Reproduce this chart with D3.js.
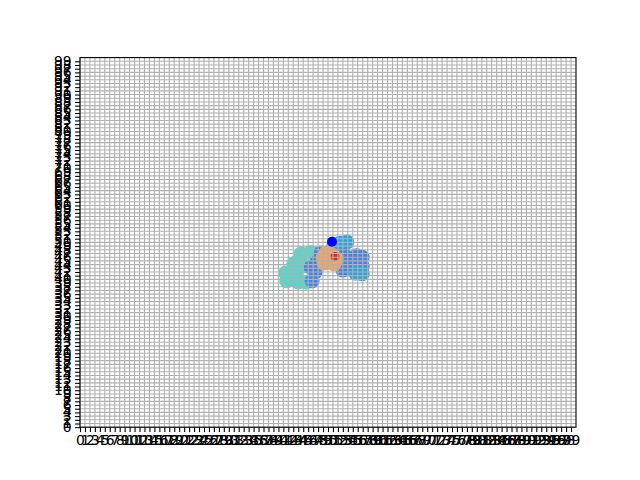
<!DOCTYPE html>
<html><head><meta charset="utf-8">
<script src="https://cdn.jsdelivr.net/npm/d3@7"></script>
<style>body{margin:0;background:#fff}svg{display:block}text{font-family:"DejaVu Sans",sans-serif}</style>
</head><body><svg id="c" width="640" height="480"></svg>
<script>
// ---- data ----
const xTicks = d3.range(0, 100);
const yTicks = d3.range(0, 100);
const turquoiseLeft = [[44.6,46.9],[46.6,47.3],[43.1,44.2],[45.2,43.6],[41.5,41.7],[43.5,41.2],[41.7,39.6],[44.0,39.3],[45.6,39.3]];
const royalLeft = [[47.8,44.7],[47.4,42.0],[46.8,39.6],[48.6,47.1],[46.6,43.2]];
const deepskyTop = [[51.2,49.3],[52.4,49.8],[53.8,50.1]];
const royalRight = [[53.4,46.4],[55.8,46.4],[56.9,46.0],[53.0,44.2],[55.4,43.9],[56.9,43.6],[53.0,42.5]];
const deepskyBottom = [[55.6,41.7],[56.9,41.5]];
const sandy = [[49.6,47.1],[49.2,44.4],[51.2,44.2],[51.6,45.6],[49.0,45.8],[50.6,46.8]];
const redPts = [[51.4,46.2]];
const bluePoint = [[50.8,50.2]];
const layers = [
  {pts: turquoiseLeft, color: "#40e0d0"},
  {pts: royalLeft, color: "#4682e6"},
  {pts: deepskyTop, color: "#1ea8e4"},
  {pts: royalRight, color: "#4682e6"},
  {pts: deepskyBottom, color: "#1ea8e4"},
  {pts: sandy, color: "#f4a460"},
  {pts: redPts, color: "#e8251e", r: 4.5}
];

// ---- layout ----
const svg = d3.select("#c");
const L = 80, R = 576, T = 57.6, B = 427.2;
const x = d3.scaleLinear().domain([0, 100]).range([L, R]);
const y = d3.scaleLinear().domain([0, 100]).range([B, T]);

svg.append("rect").attr("width",640).attr("height",480).attr("fill","#fff");

// scatter (below grid)
layers.forEach(layer => {
  svg.append("g").selectAll("circle").data(layer.pts).join("circle")
    .attr("cx", d => x(d[0])).attr("cy", d => y(d[1]))
    .attr("r", layer.r || 7.5).attr("fill", layer.color);
});

// grid
const grid = svg.append("g").attr("stroke", "#b0b0b0").attr("stroke-width", 1.1);
grid.selectAll(".gx").data(xTicks).join("line")
  .attr("x1", d => x(d)).attr("x2", d => x(d)).attr("y1", T).attr("y2", B);
grid.selectAll(".gy").data(yTicks).join("line")
  .attr("y1", d => y(d)).attr("y2", d => y(d)).attr("x1", L).attr("x2", R);

// blue dot above grid
svg.append("g").selectAll("circle").data(bluePoint).join("circle")
  .attr("cx", d => x(d[0])).attr("cy", d => y(d[1])).attr("r", 5).attr("fill", "#0000ff");

// axes
const xAxis = d3.axisBottom(x).tickValues(xTicks).tickFormat(d3.format("d")).tickSize(4.9).tickPadding(3.5);
const yAxis = d3.axisLeft(y).tickValues(yTicks).tickFormat(d3.format("d")).tickSize(4.9).tickPadding(3.5);
const gx = svg.append("g").attr("transform", `translate(0,${B})`).call(xAxis);
const gy = svg.append("g").attr("transform", `translate(${L},0)`).call(yAxis);
[gx, gy].forEach(g => {
  g.select(".domain").remove();
  g.selectAll(".tick line").attr("stroke", "#000").attr("stroke-width", 1.1);
  g.selectAll(".tick text").attr("fill", "#000").style("font-size", "13.9px").style("font-family", "DejaVu Sans");
});
// spines
svg.append("rect").attr("x", L).attr("y", T).attr("width", R - L).attr("height", B - T)
  .attr("fill", "none").attr("stroke", "#000").attr("stroke-width", 1.1);
</script></body></html>
